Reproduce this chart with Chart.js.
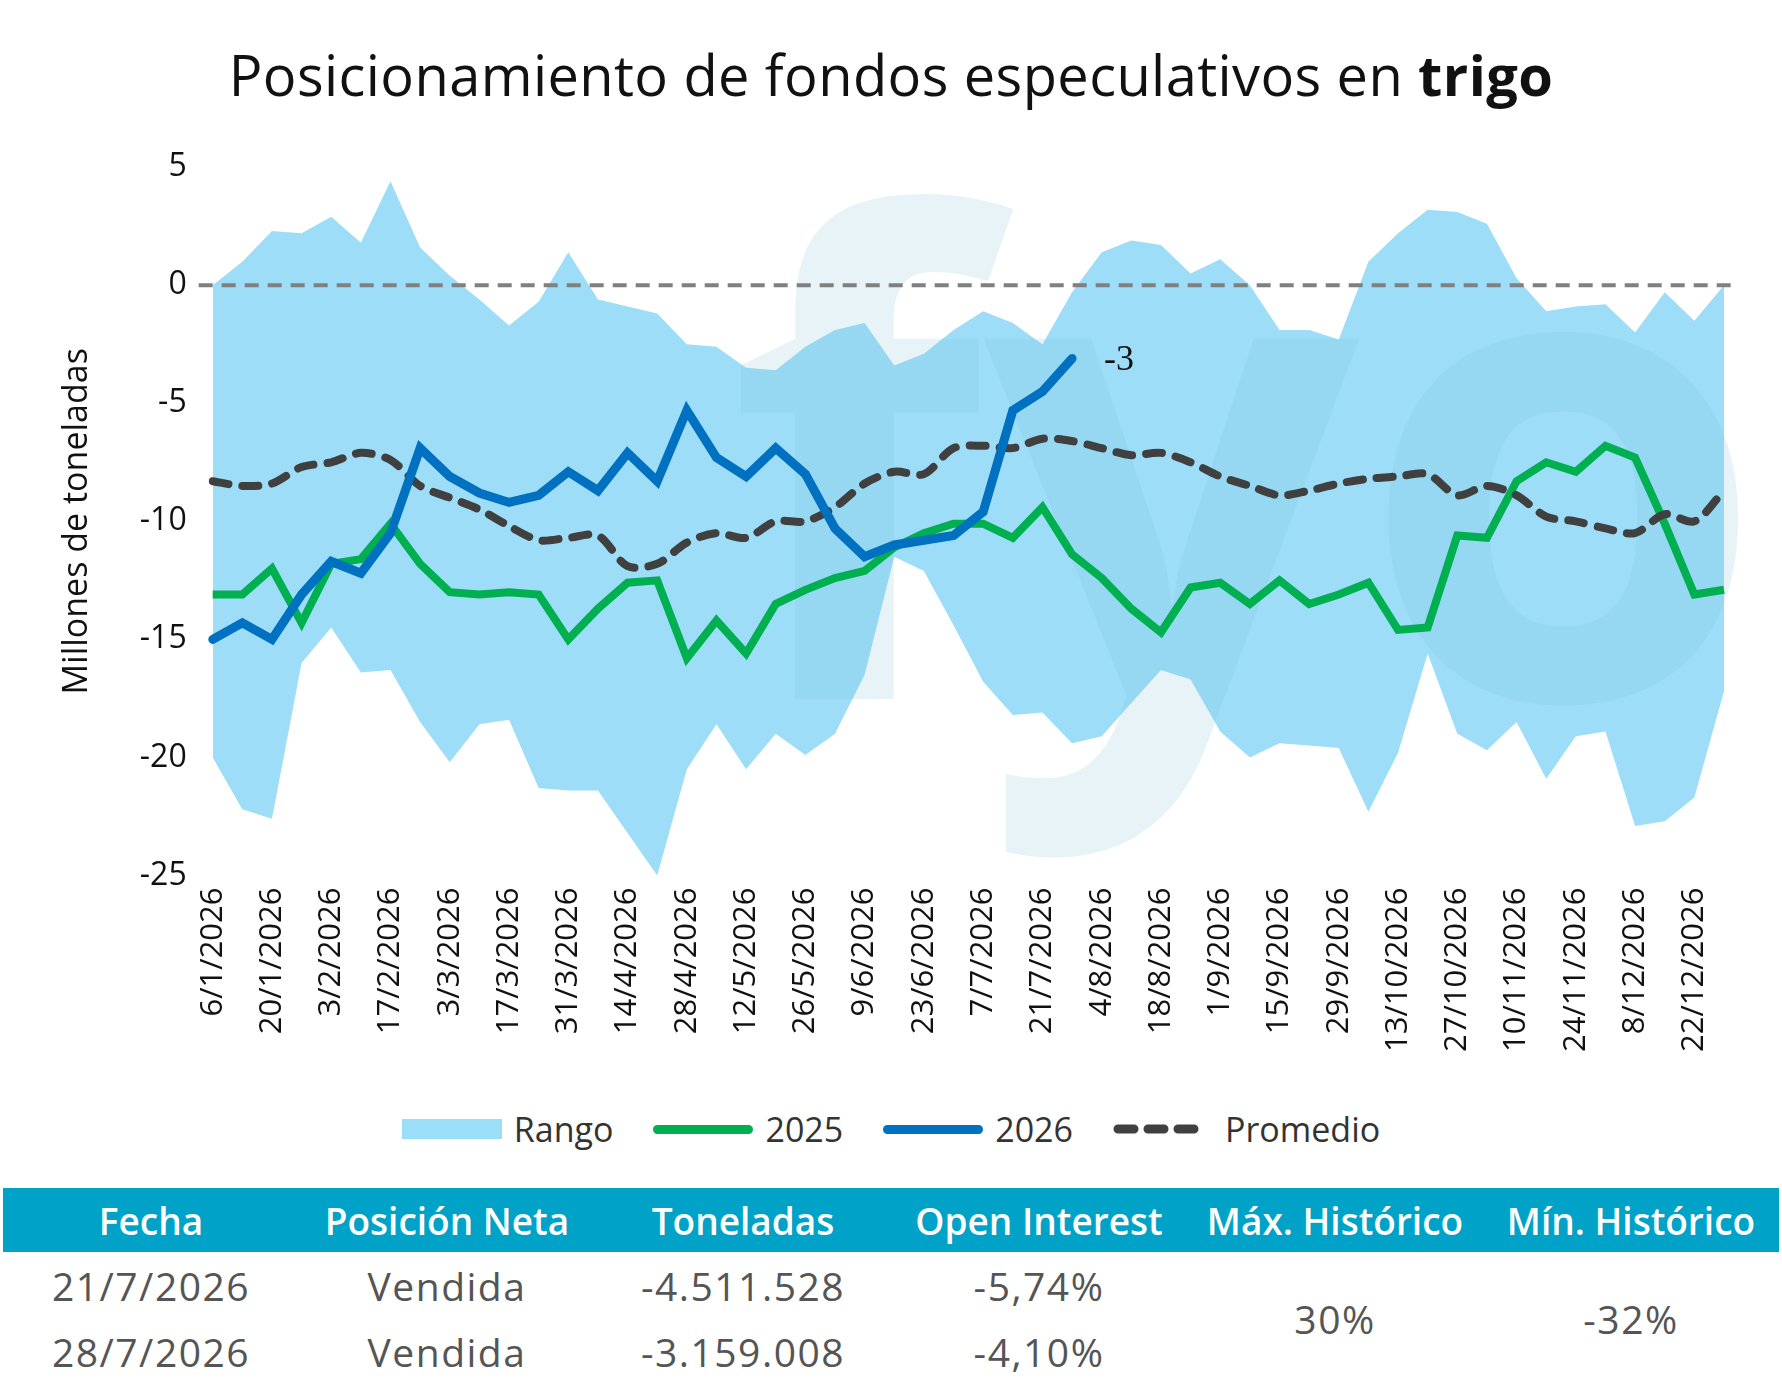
<!DOCTYPE html>
<html><head><meta charset="utf-8">
<script src="https://cdn.jsdelivr.net/npm/chart.js@4"></script>
<style>
body{margin:0;width:1782px;height:1389px;background:#fff;font-family:"Open Sans",sans-serif;overflow:hidden;position:relative}
#title{position:absolute;top:36px;left:0;width:1782px;text-align:center;font-size:56px;color:#111;font-weight:400;letter-spacing:0.4px}
#wrap{position:absolute;left:0;top:130px;width:1782px;height:926px}
#legend{position:absolute;top:1106px;left:0;width:1782px;display:flex;justify-content:center;align-items:center;font-size:34px;color:#333}
.li{display:flex;align-items:center;margin:0 20px}
.sw{width:100px;height:18px;margin-right:12px}
table{position:absolute;left:3px;top:1188px;width:1776px;border-collapse:collapse;table-layout:fixed}
th{background:#00A3C7;color:#fff;font-weight:600;font-size:37px;height:64px;padding:0}
td{text-align:center;font-size:39px;color:#555;height:66px;padding:0;letter-spacing:1.5px}
</style></head><body>
<div id="title">Posicionamiento de fondos especulativos en <b style="font-weight:700">trigo</b></div>
<div id="wrap"><canvas id="c" width="1782" height="926"></canvas></div>
<div id="legend">
 <div class="li"><div class="sw" style="background:#9BDEF7;height:20px"></div>Rango</div>
 <div class="li"><div class="sw" style="background:#00B050;height:9px;border-radius:5px"></div>2025</div>
 <div class="li"><div class="sw" style="background:#0070C0;height:9px;border-radius:5px"></div>2026</div>
 <div class="li"><svg width="100" height="12" style="margin-right:12px"><line x1="5" y1="6" x2="95" y2="6" stroke="#404040" stroke-width="9" stroke-linecap="round" stroke-dasharray="16 14"/></svg>Promedio</div>
</div>
<table>
<tr><th>Fecha</th><th>Posición Neta</th><th>Toneladas</th><th>Open Interest</th><th>Máx. Histórico</th><th>Mín. Histórico</th></tr>
<tr><td>21/7/2026</td><td>Vendida</td><td>-4.511.528</td><td>-5,74%</td><td rowspan="2">30%</td><td rowspan="2">-32%</td></tr>
<tr><td>28/7/2026</td><td>Vendida</td><td>-3.159.008</td><td>-4,10%</td></tr>
</table>
<script>
const weeks=["6/1/2026","13/1/2026","20/1/2026","27/1/2026","3/2/2026","10/2/2026","17/2/2026","24/2/2026","3/3/2026","10/3/2026","17/3/2026","24/3/2026","31/3/2026","7/4/2026","14/4/2026","21/4/2026","28/4/2026","5/5/2026","12/5/2026","19/5/2026","26/5/2026","2/6/2026","9/6/2026","16/6/2026","23/6/2026","30/6/2026","7/7/2026","14/7/2026","21/7/2026","28/7/2026","4/8/2026","11/8/2026","18/8/2026","25/8/2026","1/9/2026","8/9/2026","15/9/2026","22/9/2026","29/9/2026","6/10/2026","13/10/2026","20/10/2026","27/10/2026","3/11/2026","10/11/2026","17/11/2026","24/11/2026","1/12/2026","8/12/2026","15/12/2026","22/12/2026","29/12/2026"];
const rangeMax=[0,1.0,2.3,2.2,2.9,1.8,4.4,1.6,0.4,-0.6,-1.7,-0.7,1.4,-0.6,-0.9,-1.2,-2.5,-2.6,-3.5,-3.6,-2.6,-1.9,-1.6,-3.4,-2.9,-1.9,-1.1,-1.6,-2.5,-0.3,1.4,1.9,1.7,0.5,1.1,0,-1.9,-1.9,-2.3,1,2.2,3.2,3.1,2.6,0.3,-1.1,-0.9,-0.8,-2,-0.3,-1.5,0];
const rangeMin=[-20,-22.2,-22.6,-16,-14.5,-16.4,-16.3,-18.5,-20.2,-18.6,-18.4,-21.3,-21.4,-21.4,-23.2,-25,-20.5,-18.6,-20.5,-19,-19.9,-19,-16.5,-11.5,-12.1,-14.4,-16.8,-18.2,-18.1,-19.4,-19.1,-17.7,-16.3,-16.7,-18.9,-20,-19.4,-19.5,-19.6,-22.3,-19.8,-15.6,-19,-19.7,-18.5,-20.9,-19.1,-18.9,-22.9,-22.7,-21.7,-17.2];
const y2025=[-13.1,-13.1,-12,-14.3,-11.8,-11.6,-10.1,-11.8,-13,-13.1,-13,-13.1,-15,-13.7,-12.6,-12.5,-15.8,-14.2,-15.6,-13.5,-12.9,-12.4,-12.1,-11.1,-10.5,-10.1,-10.1,-10.7,-9.4,-11.4,-12.4,-13.7,-14.7,-12.8,-12.6,-13.5,-12.5,-13.5,-13.1,-12.6,-14.6,-14.5,-10.6,-10.7,-8.3,-7.5,-7.9,-6.8,-7.3,-10.1,-13.1,-12.9];
const y2026=[-15,-14.3,-15,-13.1,-11.7,-12.2,-10.5,-6.9,-8.1,-8.8,-9.2,-8.9,-7.9,-8.7,-7.1,-8.3,-5.3,-7.3,-8.1,-6.9,-8,-10.3,-11.5,-11,-10.8,-10.6,-9.6,-5.3,-4.5,-3.1];
const promedio=[-8.3,-8.5,-8.4,-7.7,-7.5,-7.1,-7.4,-8.5,-9,-9.5,-10.2,-10.8,-10.7,-10.6,-11.9,-11.8,-10.9,-10.5,-10.7,-10,-10,-9.4,-8.4,-7.9,-8,-6.9,-6.8,-6.9,-6.5,-6.6,-6.9,-7.2,-7.1,-7.5,-8.1,-8.5,-8.9,-8.7,-8.4,-8.2,-8.1,-8.0,-8.9,-8.5,-8.9,-9.8,-10,-10.3,-10.5,-9.7,-10,-8.7];
const lastLabel="-3";

const bg={id:'bg',afterDatasetDraw(ch,args){if(args.index!==1)return;const {ctx}=ch;ctx.save();ctx.fillStyle='rgba(110,185,210,0.17)';ctx.font='bold 660px "Open Sans"';ctx.textBaseline='alphabetic';ctx.fillText('fyo',728,569);ctx.restore();},
afterDatasetsDraw(ch){const {ctx,chartArea:a,scales}=ch;const y=scales.y.getPixelForValue(0);ctx.save();ctx.strokeStyle='#808080';ctx.lineWidth=4;ctx.setLineDash([14,9]);ctx.beginPath();ctx.moveTo(a.left-14,y);ctx.lineTo(a.right+14,y);ctx.stroke();
const i=y2026.length-1;const px=scales.x.getPixelForValue(i),py=scales.y.getPixelForValue(y2026[i]);ctx.setLineDash([]);ctx.fillStyle='#111';ctx.font='36px "Liberation Serif"';ctx.textBaseline='middle';ctx.fillText(lastLabel,px+32,py+2);ctx.restore();}};

new Chart(document.getElementById('c'),{type:'line',
data:{labels:weeks,datasets:[
{data:rangeMax,borderWidth:0,pointRadius:0,fill:'+1',backgroundColor:'rgba(135,214,245,0.82)',tension:0,order:5},
{data:rangeMin,borderWidth:0,pointRadius:0,fill:false,order:4},
{data:y2025,borderColor:'#00B050',borderWidth:8,pointRadius:0,fill:false,order:3},
{data:promedio,borderColor:'#404040',borderWidth:8,borderDash:[16,14],borderCapStyle:'round',pointRadius:0,fill:false,order:2,tension:0.3},
{data:y2026,borderColor:'#0070C0',borderWidth:9,borderCapStyle:'round',pointRadius:0,fill:false,order:1}
]},
options:{responsive:false,animation:false,devicePixelRatio:1,
layout:{padding:{left:57,right:58,top:20}},
plugins:{legend:{display:false},tooltip:{enabled:false}},
scales:{
x:{grid:{display:false},border:{display:false},ticks:{autoSkip:false,minRotation:90,maxRotation:90,color:'#111',font:{size:31,family:'"Open Sans"'},padding:4,callback:(v,i)=>i%2===0?weeks[i]:''}},
y:{min:-25,max:5,grid:{display:false},border:{display:false},ticks:{stepSize:5,color:'#111',font:{size:32,family:'"Open Sans"'},padding:18},
title:{display:true,text:'Millones de toneladas',color:'#111',font:{size:34,family:'"Open Sans"'},padding:{top:0,bottom:24}}}
}},plugins:[bg]});
</script>
</body></html>
